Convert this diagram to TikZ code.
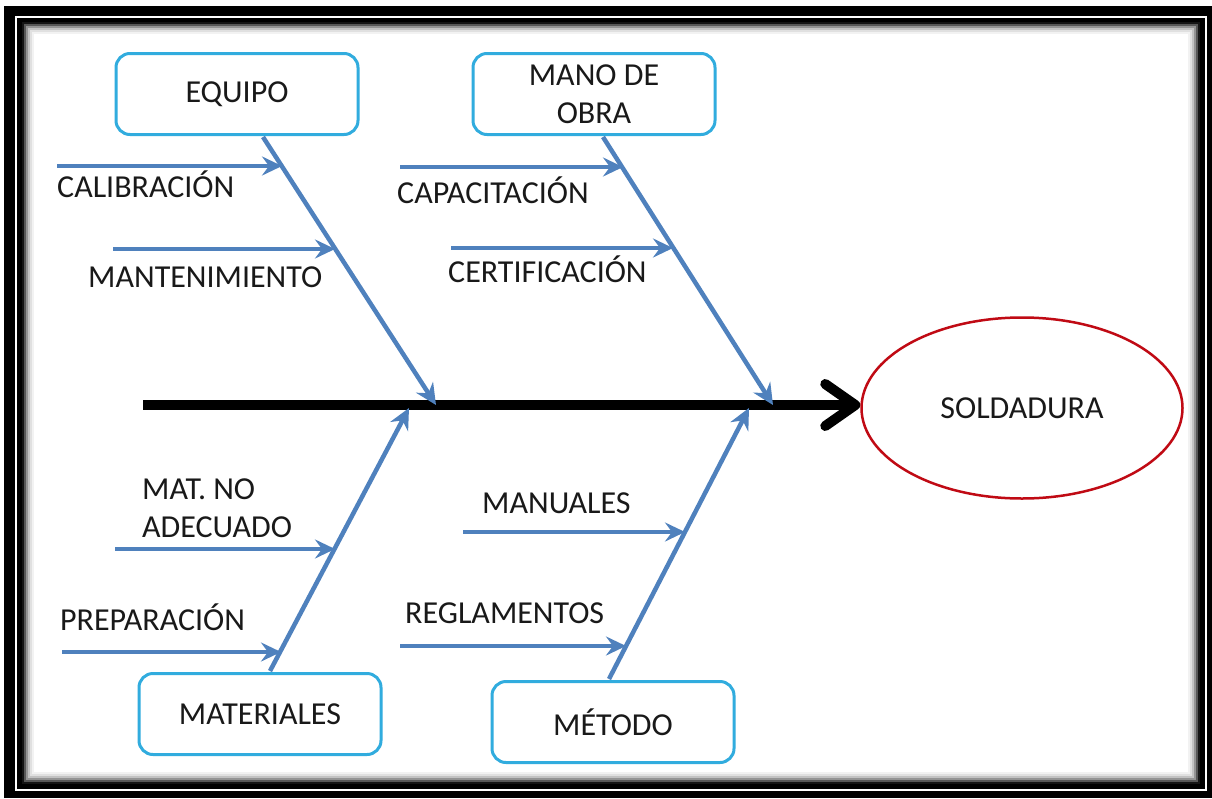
\documentclass[tikz,border=0pt]{standalone}
\usepackage{fontspec}
\setmainfont{Carlito}
\usetikzlibrary{arrows.meta,shapes.geometric,calc}
\definecolor{boxblue}{RGB}{49,172,222}
\definecolor{bonecol}{RGB}{79,129,189}
\definecolor{effred}{RGB}{192,10,20}
\definecolor{txt}{RGB}{25,25,25}
\begin{document}
\begin{tikzpicture}[x=1pt,y=-1pt,
  cat/.style={draw=boxblue, line width=3pt, rounded corners=14pt, fill=white,
    minimum width=242pt, minimum height=81pt, align=center, inner sep=0pt,
    text=txt, font=\fontsize{32}{38}\selectfont},
  lbl/.style={anchor=base west, inner sep=0pt, text=txt, align=left,
    font=\fontsize{32}{38}\selectfont},
  bone/.style={draw=bonecol, line width=4.5pt, -{Stealth[length=21pt,width=20pt,inset=7pt]}},
  sub/.style={draw=bonecol, line width=4.5pt, -{Stealth[length=20pt,width=19pt,inset=7pt]}},
  spine/.style={draw=black, line width=10pt, -{Straight Barb[length=30pt,width=42pt,round]}}
]
\useasboundingbox (0,0) rectangle (1212,798);
% frame
\fill[black] (4,6) rectangle (1212,798);
\draw[white, line width=2pt] (16,17) rectangle (1206,790);
\foreach \d/\c in {0/92,2/66,4/42,6/24,8/12,10/5,12/0}
  \fill[black!\c] (22+\d,22+\d) rectangle (1200-\d,784-\d);

% category boxes and effect
\node[cat] (equipo) at (237,94) {EQUIPO};
\node[cat] (mano) at (594,94) {MANO DE\\OBRA};
\node[cat] (mat) at (260,714) {MATERIALES};
\node[cat] (met) at (613,722) {MÉTODO};
\node[draw=effred, line width=2.5pt, ellipse, minimum width=321pt, minimum height=181pt,
  inner sep=0pt, text=txt, font=\fontsize{32}{38}\selectfont] (sol) at (1022,408) {SOLDADURA};

% spine
\coordinate (tail) at (143,405);
\draw[spine] (tail) -- (tail -| sol.west);

% bone anchors
\coordinate (e0) at ($(equipo.south)+(26,1)$);
\coordinate (m0) at ($(mano.south)+(9,1)$);
\coordinate (a0) at ($(mat.north)+(10,-1)$);
\coordinate (t0) at ($(met.north)+(-4,-1)$);
\coordinate (je) at (436,405);
\coordinate (jm) at (773,405);
\coordinate (ja) at (409,408);
\coordinate (jt) at (749,408);
\draw[bone] (e0) -- (je);
\draw[bone] (m0) -- (jm);
\draw[bone] (a0) -- (ja);
\draw[bone] (t0) -- (jt);

% sub causes
\coordinate (s1) at (57,166);  \coordinate (s1e) at (282,166);
\coordinate (s2) at (113,249); \coordinate (s2e) at (335,249);
\coordinate (s3) at (400,167); \coordinate (s3e) at (623,167);
\coordinate (s4) at (451,248); \coordinate (s4e) at (673,248);
\coordinate (s5) at (115,549); \coordinate (s5e) at (335,549);
\coordinate (s6) at (62,652);  \coordinate (s6e) at (281,652);
\coordinate (s7) at (463,532); \coordinate (s7e) at (685,532);
\coordinate (s8) at (400,646); \coordinate (s8e) at (626,646);
\foreach \i in {1,...,8} \draw[sub] (s\i) -- (s\i e);

% labels
\node[lbl] (l1) at (57,197) {CALIBRACIÓN};
\node[lbl] (l2) at (88,287) {MANTENIMIENTO};
\node[lbl] (l3) at (397,203) {CAPACITACIÓN};
\node[lbl] (l4) at (448,282) {CERTIFICACIÓN};
\node[lbl, anchor=north west] (l5) at (142,479) {MAT. NO\\ADECUADO};
\node[lbl] (l6) at (60,630) {PREPARACIÓN};
\node[lbl] (l7) at (482,513) {MANUALES};
\node[lbl] (l8) at (405,623) {REGLAMENTOS};
\end{tikzpicture}
\end{document}
